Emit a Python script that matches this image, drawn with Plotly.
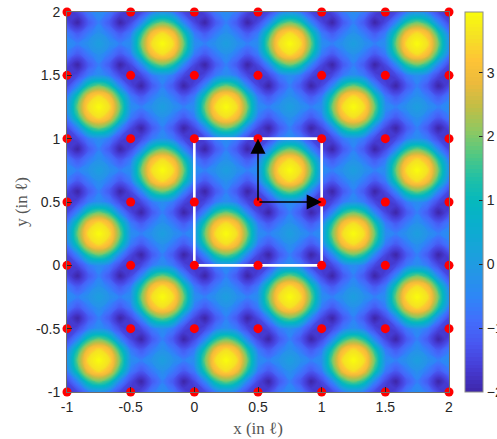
import numpy as np
import plotly.graph_objects as go

# ---- data -----------------------------------------------------------------
# One periodic unit cell of the field, sampled every 1/12 (rows: y = 0..11/12,
# columns: x = 0..11/12).  The field repeats with period 1 in x and y.
cell_values = [
    [-1.80, -1.45, -0.70, -0.30, -0.70, -1.45, -1.80, -1.45, -0.70, -0.30, -0.70, -1.45],
    [-1.45, -0.50,  1.30,  1.90,  1.30, -0.50, -1.45, -2.00, -1.20, -0.60, -1.20, -2.00],
    [-0.70,  1.30,  3.00,  3.55,  3.00,  1.30, -0.70, -1.20, -0.70, -0.25, -0.70, -1.20],
    [-0.30,  1.90,  3.55,  3.95,  3.55,  1.90, -0.30, -0.60, -0.25,  0.10, -0.25, -0.60],
    [-0.70,  1.30,  3.00,  3.55,  3.00,  1.30, -0.70, -1.20, -0.70, -0.25, -0.70, -1.20],
    [-1.45, -0.50,  1.30,  1.90,  1.30, -0.50, -1.45, -2.00, -1.20, -0.60, -1.20, -2.00],
    [-1.80, -1.45, -0.70, -0.30, -0.70, -1.45, -1.80, -1.45, -0.70, -0.30, -0.70, -1.45],
    [-1.45, -2.00, -1.20, -0.60, -1.20, -2.00, -1.45, -0.50,  1.30,  1.90,  1.30, -0.50],
    [-0.70, -1.20, -0.70, -0.25, -0.70, -1.20, -0.70,  1.30,  3.00,  3.55,  3.00,  1.30],
    [-0.30, -0.60, -0.25,  0.10, -0.25, -0.60, -0.30,  1.90,  3.55,  3.95,  3.55,  1.90],
    [-0.70, -1.20, -0.70, -0.25, -0.70, -1.20, -0.70,  1.30,  3.00,  3.55,  3.00,  1.30],
    [-1.45, -2.00, -1.20, -0.60, -1.20, -2.00, -1.45, -0.50,  1.30,  1.90,  1.30, -0.50],
]
samples_per_unit = 12
x_range = [-1, 2]
y_range = [-1, 2]
tick_values = [-1, -0.5, 0, 0.5, 1, 1.5, 2]
tick_labels = ["-1", "-0.5", "0", "0.5", "1", "1.5", "2"]
colorbar_ticks = [-2, -1, 0, 1, 2, 3]
z_min, z_max = -2.0, 3.95

site_coords = [-1, -0.5, 0, 0.5, 1, 1.5, 2]          # red lattice sites
cell_x = [0, 1, 1, 0, 0]                              # white unit cell
cell_y = [0, 0, 1, 1, 0]
vector_origin = [0.5, 0.5]                            # black basis vectors
vector_tips = [[1.0, 0.5], [0.5, 1.0]]

parula = [
    [0.000, "rgb(62,38,168)"], [0.063, "rgb(70,60,212)"], [0.125, "rgb(72,86,240)"],
    [0.188, "rgb(66,110,252)"], [0.250, "rgb(46,134,247)"], [0.313, "rgb(36,150,230)"],
    [0.375, "rgb(24,163,218)"], [0.438, "rgb(10,174,206)"], [0.500, "rgb(5,184,190)"],
    [0.563, "rgb(32,192,166)"], [0.625, "rgb(82,200,130)"], [0.688, "rgb(142,200,98)"],
    [0.750, "rgb(192,190,70)"], [0.813, "rgb(236,186,60)"], [0.875, "rgb(254,196,54)"],
    [0.938, "rgb(245,226,36)"], [1.000, "rgb(249,251,14)"],
]

# ---- build the tiled field ---------------------------------------------------
cell = np.array(cell_values)
n_x = (x_range[1] - x_range[0]) * samples_per_unit + 1
n_y = (y_range[1] - y_range[0]) * samples_per_unit + 1
xs = np.linspace(x_range[0], x_range[1], n_x)
ys = np.linspace(y_range[0], y_range[1], n_y)
ix = np.arange(n_x) % samples_per_unit
iy = np.arange(n_y) % samples_per_unit
z = cell[np.ix_(iy, ix)]

sx, sy = np.meshgrid(site_coords, site_coords)

fig = go.Figure()
fig.add_trace(go.Contour(
    x=xs, y=ys, z=z, colorscale=parula, zmin=z_min, zmax=z_max,
    contours=dict(coloring="fill", start=z_min - 0.05, end=z_max, size=0.06,
                  showlines=False),
    line=dict(width=0, smoothing=1.3),
    colorbar=dict(
        x=1.042, xanchor="left", xpad=0, y=0.5, yanchor="middle", len=1.0,
        lenmode="fraction", ypad=0, thickness=18, outlinecolor="#8c8c8c",
        outlinewidth=1, tickvals=colorbar_ticks, ticks="inside", ticklen=4,
        tickcolor="#262626", ticklabeloverflow="allow",
        tickfont=dict(family="Liberation Sans, Arial", size=14, color="#262626"),
    ),
    hoverinfo="skip",
))
fig.add_trace(go.Scatter(
    x=cell_x, y=cell_y, mode="lines", line=dict(color="white", width=2.6),
    hoverinfo="skip", showlegend=False,
))
fig.add_trace(go.Scatter(
    x=sx.ravel(), y=sy.ravel(), mode="markers",
    marker=dict(color="rgb(255,0,0)", size=9, line=dict(width=0)),
    cliponaxis=False, hoverinfo="skip", showlegend=False,
))
for tip in vector_tips:
    fig.add_annotation(
        x=tip[0], y=tip[1], ax=vector_origin[0], ay=vector_origin[1],
        xref="x", yref="y", axref="x", ayref="y", text="", showarrow=True,
        arrowhead=2, arrowsize=2.0, arrowwidth=1.5, arrowcolor="black",
    )

axis_common = dict(
    tickvals=tick_values, ticktext=tick_labels, ticks="inside", ticklen=5,
    tickcolor="#262626", showline=True, linecolor="#6e6e6e", linewidth=1,
    mirror=True, showgrid=False, zeroline=False, ticklabeloverflow="allow",
    tickfont=dict(family="Liberation Sans, Arial", size=14, color="#262626"),
)
fig.update_xaxes(range=x_range, **axis_common, ticklabelstandoff=2,
                 title=dict(text="x (in ℓ)", standoff=8,
                            font=dict(family="Liberation Serif, Times New Roman",
                                      size=17, color="#555555")))
fig.update_yaxes(range=y_range, **axis_common, ticklabelstandoff=3,
                 title=dict(text="y (in ℓ)", standoff=4,
                            font=dict(family="Liberation Serif, Times New Roman",
                                      size=17, color="#555555")))
fig.update_layout(
    width=497, height=439,
    margin=dict(l=67, r=48, t=12, b=47, autoexpand=False),
    paper_bgcolor="white", plot_bgcolor="white", showlegend=False,
)
# remove the default page margin so the figure fills the window exactly
fig.write_html(
    "out.html",
    config={"displayModeBar": False, "staticPlot": True},
    post_script="document.body.style.margin='0';document.body.style.overflow='hidden';",
)
